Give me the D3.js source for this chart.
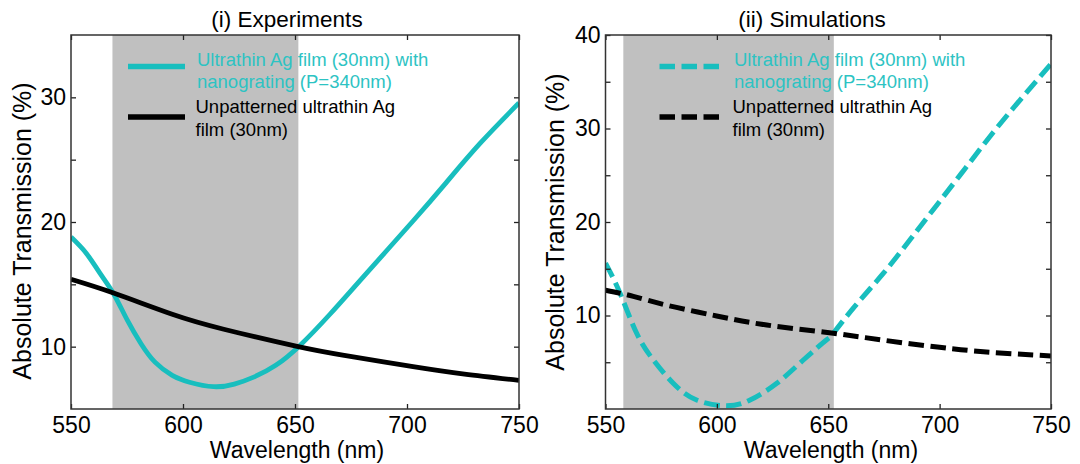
<!DOCTYPE html>
<html><head><meta charset="utf-8">
<script src="https://cdn.jsdelivr.net/npm/d3@7"></script>
<style>body{margin:0;background:#fff}svg{display:block}text{font-family:"Liberation Sans",Arial,sans-serif}</style>
</head><body>
<svg id="c" width="1080" height="464"></svg>
<script>
// ---- data ----
const xTicks = [550, 600, 650, 700, 750];
const yTicksExp = [10, 20, 30];
const yMinorExp = [15, 25];
const yTicksSim = [10, 20, 30, 40];
const yMinorSim = [5, 15, 25, 35];
const titles = ["(i) Experiments", "(ii) Simulations"];
const legendLabels = [["Ultrathin Ag film (30nm) with", "nanograting (P=340nm)"], ["Unpatterned ultrathin Ag", "film (30nm)"]];
const shadeExp = [568.5, 651.5];
const shadeSim = [558, 652.5];

const expGratingX = [550, 556.8, 562.9, 569, 575.2, 581.4, 587.5, 595.2, 602.9, 613.6, 622.9, 632.1, 641.4, 652.2, 665.6, 680.5, 702.8, 717.7, 732.6, 750];
const expGratingY = [18.8, 17.5, 15.9, 14.25, 12.1, 10.2, 8.76, 7.7, 7.15, 6.79, 7.0, 7.6, 8.5, 10.1, 12.6, 15.6, 20.1, 23.2, 26.3, 29.55];
const expFilmX = [550, 569, 595.2, 618.2, 651.4, 672, 702.7, 725.7, 750];
const expFilmY = [15.4, 14.3, 12.6, 11.4, 10.0, 9.3, 8.4, 7.8, 7.3];

const simGratingX = [550, 556.5, 564, 571.5, 580.4, 590.9, 604.4, 614.9, 626.9, 638.8, 649.3, 652.3, 662, 674.7, 686.7, 698.7, 711.4, 724.1, 737, 750];
const simGratingY = [15.6, 12.4, 8.1, 5.24, 2.75, 0.96, 0.35, 0.96, 2.75, 5.24, 7.4, 8.1, 11.0, 14.5, 18.1, 21.8, 25.7, 29.6, 33.3, 36.9];
const simFilmX = [550, 562.5, 577.5, 599.9, 622.4, 652.3, 675, 700, 721, 750];
const simFilmY = [12.7, 12.05, 11.1, 9.95, 8.98, 8.1, 7.35, 6.6, 6.1, 5.67];

const cyan = "#18BEBE", cyanText = "#2DC3C3", shadeColor = "#C0C0C0";

const svg = d3.select("#c");

const panels = [
  {x0: 71, x1: 519, y0: 35, y1: 409, ydom: [5, 35], yt: yTicksExp, ym: yMinorExp, shade: shadeExp,
   series: [[expGratingX, expGratingY, cyan, null], [expFilmX, expFilmY, "#000", null]],
   title: titles[0], titleX: 287, xlabX: 297, ylabX: 31, ylabY: 231, legX: 128, txtX: 197, dash: null},
  {x0: 605.5, x1: 1051, y0: 35, y1: 409, ydom: [0, 40], yt: yTicksSim, ym: yMinorSim, shade: shadeSim,
   series: [[simGratingX, simGratingY, cyan, "15.5,6.5"], [simFilmX, simFilmY, "#000", "15.5,6.5"]],
   title: titles[1], titleX: 812, xlabX: 831, ylabX: 564, ylabY: 222, legX: 659.5, txtX: 734, dash: "15.5,6.5"}
];

panels.forEach((p, i) => {
  const x = d3.scaleLinear().domain([550, 750]).range([p.x0, p.x1]);
  const y = d3.scaleLinear().domain(p.ydom).range([p.y1, p.y0]);
  const g = svg.append("g");
  const cid = "clip" + i;
  g.append("clipPath").attr("id", cid).append("rect")
    .attr("x", p.x0).attr("y", p.y0).attr("width", p.x1 - p.x0).attr("height", p.y1 - p.y0);

  // shade
  g.append("rect").attr("x", x(p.shade[0])).attr("y", p.y0)
    .attr("width", x(p.shade[1]) - x(p.shade[0])).attr("height", p.y1 - p.y0)
    .attr("fill", shadeColor);

  // lines
  const plot = g.append("g").attr("clip-path", `url(#${cid})`);
  p.series.forEach(([xs, ys, col, dash]) => {
    const pts = xs.map((v, k) => [v, ys[k]]);
    const line = d3.line().x(d => x(d[0])).y(d => y(d[1])).curve(d3.curveNatural);
    plot.append("path").attr("d", line(pts)).attr("fill", "none").attr("stroke", col)
      .attr("stroke-width", dash ? 5 : 4.8).attr("stroke-dasharray", dash);
  });

  // axes (ticks inward)
  const fmt = d3.format("d");
  const axB = g.append("g").attr("transform", `translate(0,${p.y1})`)
    .call(d3.axisBottom(x).tickValues(xTicks).tickSizeInner(-5).tickSizeOuter(0).tickPadding(10).tickFormat(fmt));
  const axT = g.append("g").attr("transform", `translate(0,${p.y0})`)
    .call(d3.axisTop(x).tickValues(xTicks).tickSizeInner(-5).tickSizeOuter(0).tickFormat(""));
  const axL = g.append("g").attr("transform", `translate(${p.x0},0)`)
    .call(d3.axisLeft(y).tickValues(p.yt.concat(p.ym)).tickSizeInner(-5).tickSizeOuter(0).tickPadding(5)
      .tickFormat(d => p.yt.includes(d) ? fmt(d) : ""));
  const axR = g.append("g").attr("transform", `translate(${p.x1},0)`)
    .call(d3.axisRight(y).tickValues(p.yt.concat(p.ym)).tickSizeInner(-5).tickSizeOuter(0).tickFormat(""));
  [axB, axT, axL, axR].forEach(a => {
    a.select(".domain").remove();
    a.selectAll("line").attr("stroke", "#222").attr("stroke-width", 1.3);
    a.selectAll("text").attr("font-size", 23).attr("fill", "#000").attr("font-family", '"Liberation Sans",Arial,sans-serif');
  });
  axB.selectAll("text").attr("dy", "0.71em").attr("y", 8);

  // frame
  g.append("rect").attr("x", p.x0).attr("y", p.y0).attr("width", p.x1 - p.x0).attr("height", p.y1 - p.y0)
    .attr("fill", "none").attr("stroke", "#333").attr("stroke-width", 1.5);

  // title
  g.append("text").attr("x", p.titleX).attr("y", 27).attr("text-anchor", "middle")
    .attr("font-size", 22.5).text(p.title);
  // x label
  g.append("text").attr("x", p.xlabX).attr("y", 458).attr("text-anchor", "middle")
    .attr("font-size", 23).text("Wavelength (nm)");
  // y label
  g.append("text").attr("transform", `translate(${p.ylabX},${p.ylabY}) rotate(-90)`)
    .attr("text-anchor", "middle").attr("font-size", 25).text("Absolute Transmission (%)");

  // legend
  const legY = [66.5, 117];
  const txtY = [[65.7, 88.3], [112.7, 135.7]];
  [cyan, "#000"].forEach((col, k) => {
    g.append("line").attr("x1", p.legX).attr("x2", p.legX + 57 + (p.dash ? 3 : 0))
      .attr("y1", legY[k]).attr("y2", legY[k]).attr("stroke", col).attr("stroke-width", 5.5)
      .attr("stroke-dasharray", p.dash);
    legendLabels[k].forEach((t, j) => {
      g.append("text").attr("x", p.txtX - (k === 1 ? 1.5 : 0)).attr("y", txtY[k][j])
        .attr("font-size", 18.5).attr("fill", k === 0 ? cyanText : "#000").text(t);
    });
  });
});
</script>
</body></html>
